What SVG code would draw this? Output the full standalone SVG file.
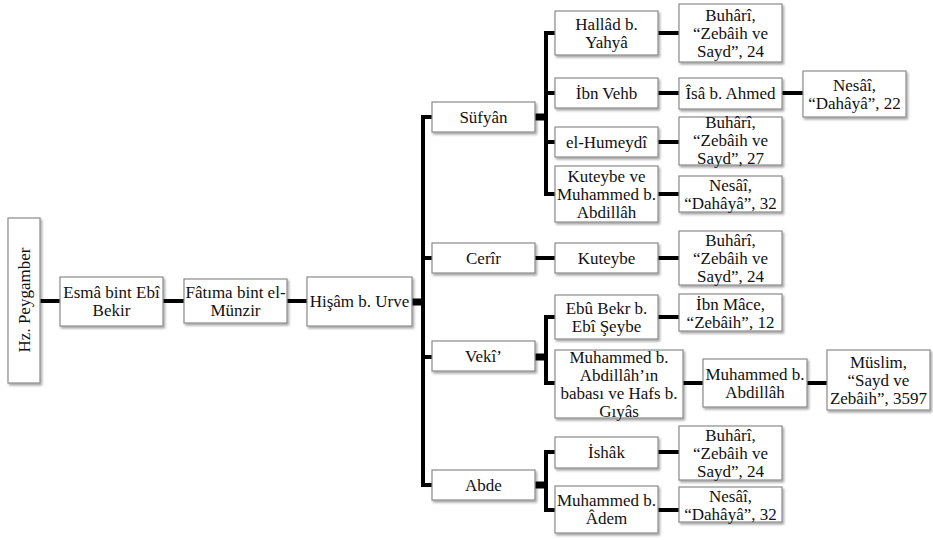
<svg xmlns="http://www.w3.org/2000/svg" width="933" height="540" viewBox="0 0 933 540">
<defs>
<filter id="sh" x="-10%" y="-10%" width="130%" height="130%">
<feDropShadow dx="1.5" dy="2" stdDeviation="1.2" flood-color="#000" flood-opacity="0.35"/>
</filter>
<style>
.b{fill:#fff;stroke:#8a8a8a;stroke-width:1.2;filter:url(#sh)}
text{font-family:'Liberation Serif',serif;font-size:17px;fill:#111;text-anchor:middle}
.c{fill:none;stroke:#000;stroke-width:4;stroke-linejoin:miter}
.t{fill:none;stroke:#000;stroke-width:7}
</style>
</defs>
<rect width="933" height="540" fill="#fff"/>
<g id="connectors">
<line class="c" x1="40" y1="301" x2="60" y2="301"/>
<line class="c" x1="163" y1="301" x2="184" y2="301"/>
<line class="c" x1="287" y1="301" x2="307" y2="301"/>
<line class="t" x1="412" y1="302" x2="424" y2="302"/>
<path class="c" d="M432,117 H423 V485 H432"/>
<line class="c" x1="423" y1="258" x2="432" y2="258"/>
<line class="c" x1="423" y1="357" x2="432" y2="357"/>
<line class="t" x1="535" y1="117" x2="546" y2="117"/>
<path class="c" d="M555,33 H546 V194 H555"/>
<line class="c" x1="546" y1="93" x2="555" y2="93"/>
<line class="c" x1="546" y1="142" x2="555" y2="142"/>
<line class="c" x1="535" y1="258" x2="555" y2="258"/>
<line class="t" x1="535" y1="357" x2="546" y2="357"/>
<path class="c" d="M555,317 H546 V383 H555"/>
<line class="t" x1="535" y1="485" x2="546" y2="485"/>
<path class="c" d="M555,452 H546 V510 H555"/>
<line class="c" x1="658" y1="33" x2="679" y2="33"/>
<line class="c" x1="658" y1="93" x2="679" y2="93"/>
<line class="c" x1="782" y1="93" x2="803" y2="93"/>
<line class="c" x1="658" y1="142" x2="679" y2="142"/>
<line class="c" x1="658" y1="194" x2="679" y2="194"/>
<line class="c" x1="658" y1="258" x2="679" y2="258"/>
<line class="c" x1="658" y1="317" x2="679" y2="317"/>
<line class="c" x1="683" y1="383" x2="703" y2="383"/>
<line class="c" x1="807" y1="383" x2="827" y2="383"/>
<line class="c" x1="658" y1="452" x2="679" y2="452"/>
<line class="c" x1="658" y1="510" x2="679" y2="510"/>
</g>
<g id="hz"><rect class="b" x="8" y="218" width="32" height="165"/><text transform="translate(30,300) rotate(-90)" font-family="Liberation Serif, serif">Hz. Peygamber</text></g>
<g id="esma"><rect class="b" x="60" y="277" width="103" height="49"/><text x="111.5" y="298">Esmâ bint Ebî</text><text x="111.5" y="316">Bekir</text></g>
<g id="fatima"><rect class="b" x="184" y="279" width="103" height="44"/><text x="235.5" y="298">Fâtıma bint el-</text><text x="235.5" y="316">Münzir</text></g>
<g id="hisam"><rect class="b" x="307" y="277" width="105" height="49"/><text x="359.5" y="307">Hişâm b. Urve</text></g>
<g id="sufyan"><rect class="b" x="432" y="102" width="103" height="30"/><text x="483.5" y="123">Süfyân</text></g>
<g id="cerir"><rect class="b" x="432" y="243" width="103" height="30"/><text x="483.5" y="264">Cerîr</text></g>
<g id="veki"><rect class="b" x="432" y="341" width="103" height="30"/><text x="483.5" y="362">Vekî’</text></g>
<g id="abde"><rect class="b" x="432" y="470" width="103" height="30"/><text x="483.5" y="491">Abde</text></g>
<g id="hallad"><rect class="b" x="555" y="11" width="103" height="44"/><text x="606.5" y="30">Hallâd b.</text><text x="606.5" y="48">Yahyâ</text></g>
<g id="ibnvehb"><rect class="b" x="555" y="78" width="103" height="30"/><text x="606.5" y="99">İbn Vehb</text></g>
<g id="humeydi"><rect class="b" x="555" y="127" width="103" height="30"/><text x="606.5" y="148">el-Humeydî</text></g>
<g id="kuteybeve"><rect class="b" x="555" y="166" width="103" height="56"/><text x="606.5" y="182">Kuteybe ve</text><text x="606.5" y="200">Muhammed b.</text><text x="606.5" y="218">Abdillâh</text></g>
<g id="kuteybe"><rect class="b" x="555" y="243" width="103" height="30"/><text x="606.5" y="264">Kuteybe</text></g>
<g id="ebubekr"><rect class="b" x="555" y="295" width="103" height="44"/><text x="606.5" y="314">Ebû Bekr b.</text><text x="606.5" y="332">Ebî Şeybe</text></g>
<g id="muhabdin"><rect class="b" x="555" y="350" width="128" height="68"/><text x="619" y="363">Muhammed b.</text><text x="619" y="381">Abdillâh’ın</text><text x="619" y="399">babası ve Hafs b.</text><text x="619" y="417">Gıyâs</text></g>
<g id="ishak"><rect class="b" x="555" y="437" width="103" height="31"/><text x="606.5" y="458">İshâk</text></g>
<g id="adem"><rect class="b" x="555" y="486" width="103" height="47"/><text x="606.5" y="506">Muhammed b.</text><text x="606.5" y="524">Âdem</text></g>
<g id="buhari1"><rect class="b" x="679" y="4" width="103" height="58"/><text x="730.5" y="21">Buhârî,</text><text x="730.5" y="39">“Zebâih ve</text><text x="730.5" y="57">Sayd”, 24</text></g>
<g id="isa"><rect class="b" x="679" y="78" width="103" height="31"/><text x="730.5" y="99">Îsâ b. Ahmed</text></g>
<g id="nesai22"><rect class="b" x="803" y="71" width="103" height="46"/><text x="854.5" y="91">Nesâî,</text><text x="854.5" y="109">“Dahâyâ”, 22</text></g>
<g id="buhari27"><rect class="b" x="679" y="117" width="103" height="48"/><text x="730.5" y="128">Buhârî,</text><text x="730.5" y="146">“Zebâih ve</text><text x="730.5" y="164">Sayd”, 27</text></g>
<g id="nesai32a"><rect class="b" x="679" y="176" width="103" height="36"/><text x="730.5" y="191">Nesâî,</text><text x="730.5" y="209">“Dahâyâ”, 32</text></g>
<g id="buhari2"><rect class="b" x="679" y="231" width="103" height="54"/><text x="730.5" y="246">Buhârî,</text><text x="730.5" y="264">“Zebâih ve</text><text x="730.5" y="282">Sayd”, 24</text></g>
<g id="ibnmace"><rect class="b" x="679" y="294" width="103" height="37"/><text x="730.5" y="310">İbn Mâce,</text><text x="730.5" y="328">“Zebâih”, 12</text></g>
<g id="muhabd"><rect class="b" x="703" y="359" width="104" height="48"/><text x="755" y="380">Muhammed b.</text><text x="755" y="398">Abdillâh</text></g>
<g id="muslim"><rect class="b" x="827" y="350" width="103" height="60"/><text x="878.5" y="368">Müslim,</text><text x="878.5" y="386">“Sayd ve</text><text x="878.5" y="404">Zebâih”, 3597</text></g>
<g id="buhari3"><rect class="b" x="679" y="426" width="103" height="54"/><text x="730.5" y="441">Buhârî,</text><text x="730.5" y="459">“Zebâih ve</text><text x="730.5" y="477">Sayd”, 24</text></g>
<g id="nesai32b"><rect class="b" x="679" y="487" width="103" height="35"/><text x="730.5" y="502">Nesâî,</text><text x="730.5" y="520">“Dahâyâ”, 32</text></g>
</svg>
